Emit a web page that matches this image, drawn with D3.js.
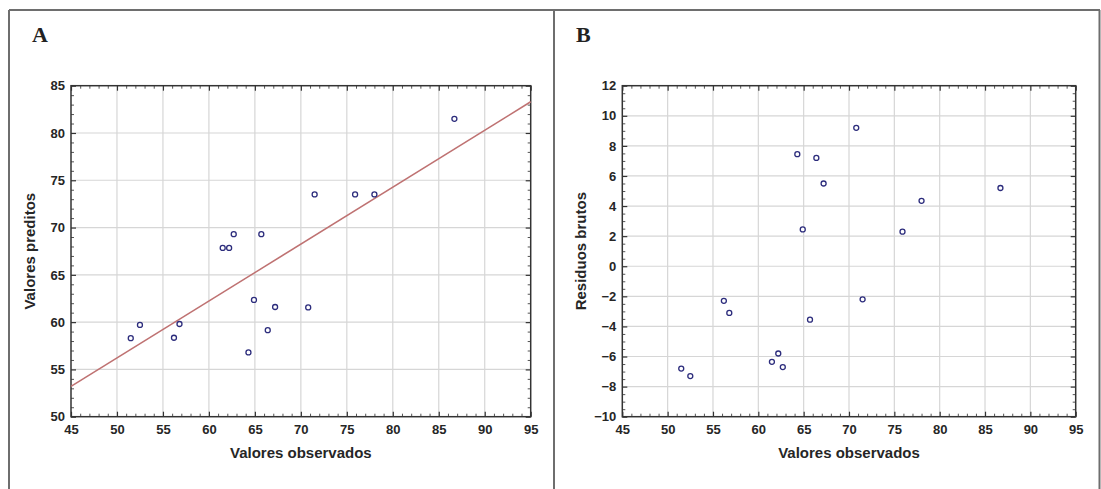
<!DOCTYPE html>
<html>
<head>
<meta charset="utf-8">
<script src="https://cdn.jsdelivr.net/npm/d3@7"></script>
<style>
  html, body { margin: 0; padding: 0; background: #fff; }
  svg { display: block; }
  .tick text { font-family: "Liberation Sans", Arial, sans-serif; font-weight: bold; font-size: 13px; fill: #262626; }
</style>
</head>
<body>
<svg id="chart" width="1101" height="489"></svg>
<script>
// ---- Data ----
const observed  = [51.5, 52.5, 56.2, 56.8, 61.5, 62.2, 62.7, 65.7, 64.3, 64.9, 66.4, 67.2, 70.8, 71.5, 75.9, 78.0, 86.7];
const predicted = [58.3, 59.7, 58.35, 59.8, 67.85, 67.85, 69.3, 69.3, 56.8, 62.35, 59.15, 61.6, 61.55, 73.5, 73.5, 73.5, 81.5];
const residuals = [-6.8, -7.3, -2.3, -3.1, -6.35, -5.8, -6.7, -3.55, 7.45, 2.45, 7.2, 5.5, 9.2, -2.2, 2.3, 4.35, 5.2];
const fitLineX  = [45, 95];
const fitLineY  = [53.2, 83.3];

const xTicks  = [45, 50, 55, 60, 65, 70, 75, 80, 85, 90, 95];
const yTicksA = [50, 55, 60, 65, 70, 75, 80, 85];
const yTicksB = [-10, -8, -6, -4, -2, 0, 2, 4, 6, 8, 10, 12];

const panelLetters = ["A", "B"];
const xTitle  = "Valores observados";
const yTitles = ["Valores preditos", "Residuos brutos"];

// ---- Drawing ----
const svg = d3.select("#chart");
svg.append("rect").attr("width", 1101).attr("height", 489).attr("fill", "#fff");

// outer frame
const frame = svg.append("g").attr("stroke", "#6e6e6e").attr("stroke-width", 2).attr("fill", "none");
frame.append("line").attr("x1", 9).attr("x2", 1100).attr("y1", 10).attr("y2", 10);
frame.append("line").attr("x1", 9).attr("x2", 9).attr("y1", 10).attr("y2", 489);
frame.append("line").attr("x1", 554).attr("x2", 554).attr("y1", 10).attr("y2", 489);
frame.append("line").attr("x1", 1099.5).attr("x2", 1099.5).attr("y1", 10).attr("y2", 489);

function range(a, b, step) { const r = []; for (let v = a; v <= b + 1e-9; v += step) r.push(+v.toFixed(3)); return r; }

function panel(opts) {
  const { left, right, top, bottom, yTicks, yMinorStep, xs, ys, letter, letterX, yTitle, yTitleX } = opts;
  const x = d3.scaleLinear().domain([45, 95]).range([left, right]);
  const y = d3.scaleLinear().domain([yTicks[0], yTicks[yTicks.length - 1]]).range([bottom, top]);
  const g = svg.append("g");

  // panel letter
  g.append("text").attr("x", letterX).attr("y", 42)
    .attr("font-family", "'Liberation Serif', 'Times New Roman', serif")
    .attr("font-weight", "bold").attr("font-size", 22).attr("fill", "#222").text(letter);

  // grid
  const grid = g.append("g").attr("stroke", "#d6d6d6").attr("stroke-width", 1.2);
  xTicks.slice(1, -1).forEach(v => grid.append("line")
    .attr("x1", x(v)).attr("x2", x(v)).attr("y1", top).attr("y2", bottom));
  yTicks.slice(1, -1).forEach(v => grid.append("line")
    .attr("x1", left).attr("x2", right).attr("y1", y(v)).attr("y2", y(v)));

  // minor ticks (inward) on all sides
  const xMinor = range(45, 95, 1).filter(v => !xTicks.includes(v));
  const yMinor = range(yTicks[0], yTicks[yTicks.length - 1], yMinorStep).filter(v => !yTicks.includes(v));
  const minorStyle = sel => sel.call(s => s.select(".domain").remove())
      .call(s => s.selectAll("line").attr("stroke", "#555").attr("stroke-width", 1));
  g.append("g").attr("transform", `translate(0,${bottom})`)
    .call(d3.axisBottom(x).tickValues(xMinor).tickSize(-3).tickFormat("")).call(minorStyle);
  g.append("g").attr("transform", `translate(0,${top})`)
    .call(d3.axisTop(x).tickValues(xMinor).tickSize(-3).tickFormat("")).call(minorStyle);
  g.append("g").attr("transform", `translate(${left},0)`)
    .call(d3.axisLeft(y).tickValues(yMinor).tickSize(-3).tickFormat("")).call(minorStyle);
  g.append("g").attr("transform", `translate(${right},0)`)
    .call(d3.axisRight(y).tickValues(yMinor).tickSize(-3).tickFormat("")).call(minorStyle);

  // major axes
  const majorStyle = sel => sel.call(s => s.select(".domain").remove())
      .call(s => s.selectAll("line").attr("stroke", "#333").attr("stroke-width", 1.2));
  g.append("g").attr("transform", `translate(0,${bottom})`)
    .call(d3.axisBottom(x).tickValues(xTicks).tickSize(-5).tickPadding(8).tickFormat(d3.format("d"))).call(majorStyle);
  g.append("g").attr("transform", `translate(0,${top})`)
    .call(d3.axisTop(x).tickValues(xTicks).tickSize(-5).tickFormat("")).call(majorStyle);
  g.append("g").attr("transform", `translate(${left},0)`)
    .call(d3.axisLeft(y).tickValues(yTicks).tickSize(-5).tickPadding(6).tickFormat(d3.format("d"))).call(majorStyle);
  g.append("g").attr("transform", `translate(${right},0)`)
    .call(d3.axisRight(y).tickValues(yTicks).tickSize(-5).tickFormat("")).call(majorStyle);

  // plot border
  g.append("rect").attr("x", left).attr("y", top).attr("width", right - left).attr("height", bottom - top)
    .attr("fill", "none").attr("stroke", "#333").attr("stroke-width", 1.5);

  // fit line (panel A only)
  if (opts.fit) {
    g.append("line")
      .attr("x1", x(fitLineX[0])).attr("y1", y(fitLineY[0]))
      .attr("x2", x(fitLineX[1])).attr("y2", y(fitLineY[1]))
      .attr("stroke", "#bf7272").attr("stroke-width", 1.6);
  }

  // points
  g.append("g").selectAll("circle").data(xs.map((v, i) => [v, ys[i]])).join("circle")
    .attr("cx", d => x(d[0])).attr("cy", d => y(d[1])).attr("r", 2.5)
    .attr("fill", "#fff").attr("stroke", "#2c2c7c").attr("stroke-width", 1.3);

  // titles
  g.append("text").attr("x", (left + right) / 2).attr("y", 458).attr("text-anchor", "middle")
    .attr("font-family", "'Liberation Sans', Arial, sans-serif").attr("font-weight", "bold")
    .attr("font-size", 15).attr("fill", "#262626").text(xTitle);
  g.append("text").attr("transform", `translate(${yTitleX},${(top + bottom) / 2}) rotate(-90)`)
    .attr("text-anchor", "middle").attr("dy", "0.35em")
    .attr("font-family", "'Liberation Sans', Arial, sans-serif").attr("font-weight", "bold")
    .attr("font-size", 15).attr("fill", "#262626").text(yTitle);
}

panel({ left: 71, right: 530.7, top: 85.7, bottom: 416.7, yTicks: yTicksA, yMinorStep: 1,
        xs: observed, ys: predicted, letter: panelLetters[0], letterX: 32, yTitle: yTitles[0], yTitleX: 30, fit: true });
panel({ left: 622.3, right: 1075.7, top: 85.7, bottom: 416.7, yTicks: yTicksB, yMinorStep: 0.5,
        xs: observed, ys: residuals, letter: panelLetters[1], letterX: 576, yTitle: yTitles[1], yTitleX: 581, fit: false });
</script>
</body>
</html>
